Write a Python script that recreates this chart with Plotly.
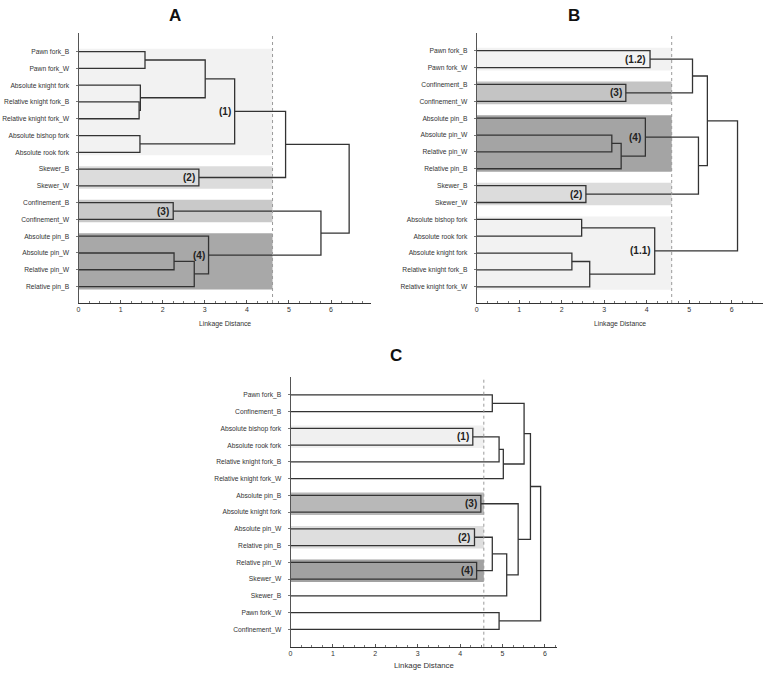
import plotly.graph_objects as go

# ---------------- DATA ----------------
leaves_A = ["Pawn fork_B", "Pawn fork_W", "Absolute knight fork", "Relative knight fork_B",
            "Relative knight fork_W", "Absolute bishop fork", "Absolute rook fork", "Skewer_B",
            "Skewer_W", "Confinement_B", "Confinement_W", "Absolute pin_B", "Absolute pin_W",
            "Relative pin_W", "Relative pin_B"]
# (child_a, child_b, linkage distance); int child = index of earlier merge
merges_A = [
    ("Pawn fork_B", "Pawn fork_W", 1.58),
    ("Relative knight fork_B", "Relative knight fork_W", 1.44),
    ("Absolute knight fork", 1, 1.47),
    (0, 2, 3.01),
    ("Absolute bishop fork", "Absolute rook fork", 1.46),
    (3, 4, 3.71),
    ("Skewer_B", "Skewer_W", 2.86),
    (5, 6, 4.92),
    ("Confinement_B", "Confinement_W", 2.25),
    ("Absolute pin_W", "Relative pin_W", 2.27),
    (9, "Relative pin_B", 2.75),
    ("Absolute pin_B", 10, 3.09),
    (8, 11, 5.76),
    (7, 12, 6.43),
]
clusters_A = [(5, "(1)", 0, 6), (6, "(2)", 7, 8), (8, "(3)", 9, 10), (11, "(4)", 11, 14)]
cut_A = 4.61

leaves_B = ["Pawn fork_B", "Pawn fork_W", "Confinement_B", "Confinement_W", "Absolute pin_B",
            "Absolute pin_W", "Relative pin_W", "Relative pin_B", "Skewer_B", "Skewer_W",
            "Absolute bishop fork", "Absolute rook fork", "Absolute knight fork",
            "Relative knight fork_B", "Relative knight fork_W"]
merges_B = [
    ("Pawn fork_B", "Pawn fork_W", 4.08),
    ("Confinement_B", "Confinement_W", 3.51),
    ("Absolute pin_W", "Relative pin_W", 3.18),
    (2, "Relative pin_B", 3.40),
    ("Absolute pin_B", 3, 3.97),
    ("Skewer_B", "Skewer_W", 2.57),
    ("Absolute bishop fork", "Absolute rook fork", 2.47),
    ("Absolute knight fork", "Relative knight fork_B", 2.24),
    (7, "Relative knight fork_W", 2.66),
    (6, 8, 4.19),
    (0, 1, 5.08),
    (4, 5, 5.22),
    (10, 11, 5.43),
    (12, 9, 6.14),
]
clusters_B = [(0, "(1.2)", 0, 1), (1, "(3)", 2, 3), (4, "(4)", 4, 7), (5, "(2)", 8, 9),
              (9, "(1.1)", 10, 14)]
cut_B = 4.59

leaves_C = ["Pawn fork_B", "Confinement_B", "Absolute bishop fork", "Absolute rook fork",
            "Relative knight fork_B", "Relative knight fork_W", "Absolute pin_B",
            "Absolute knight fork", "Absolute pin_W", "Relative pin_B", "Relative pin_W",
            "Skewer_W", "Skewer_B", "Pawn fork_W", "Confinement_W"]
merges_C = [
    ("Pawn fork_B", "Confinement_B", 4.76),
    ("Absolute bishop fork", "Absolute rook fork", 4.30),
    (1, "Relative knight fork_B", 4.92),
    (2, "Relative knight fork_W", 5.02),
    (0, 3, 5.51),
    ("Absolute pin_B", "Absolute knight fork", 4.49),
    ("Absolute pin_W", "Relative pin_B", 4.34),
    ("Relative pin_W", "Skewer_W", 4.39),
    (6, 7, 4.76),
    (8, "Skewer_B", 5.10),
    (5, 9, 5.37),
    (4, 10, 5.66),
    ("Pawn fork_W", "Confinement_W", 4.92),
    (11, 12, 5.90),
]
clusters_C = [(1, "(1)", 2, 3), (5, "(3)", 6, 7), (6, "(2)", 8, 9), (7, "(4)", 10, 11)]
cut_C = 4.56

panel_titles = ["A", "B", "C"]
x_title = "Linkage Distance"

# ---------------- STYLE ----------------
W, H = 767, 675
FONT = "Liberation Sans, Arial, sans-serif"
LINE_COLOR = "#333333"
band_colors = {
    "A": ["#f2f2f2", "#dcdcdc", "#c9c9c9", "#a8a8a8"],
    "B": ["#f2f2f2", "#c4c4c4", "#a4a4a4", "#dcdcdc", "#f2f2f2"],
    "C": ["#f0f0f0", "#b8b8b8", "#dedede", "#a2a2a2"],
}
# pixel geometry: (x0px, x1px, xmax, ytop_px, ybot_px, yrange_top, yrange_bottom)
geom = {
    "A": (76.7, 370.0, 6.95, 33, 303, -1.11, 14.98),
    "B": (476.0, 763.0, 6.74, 33, 303, -1.05, 14.96),
    "C": (289.3, 556.6, 6.29, 376.7, 646.7, -1.09, 15.04),
}
title_pos = {"A": (173.6, 15), "B": (573.6, 15), "C": (395, 355)}
xlabel_y = {"A": 324, "B": 324, "C": 665}
xlabel_size = {"A": 6.8, "B": 6.8, "C": 7.8}

panels = {
    "A": (leaves_A, merges_A, clusters_A, cut_A),
    "B": (leaves_B, merges_B, clusters_B, cut_B),
    "C": (leaves_C, merges_C, clusters_C, cut_C),
}

fig = go.Figure()
shapes, annotations = [], []
layout_axes = {}

for k, key in enumerate(["A", "B", "C"]):
    leaves, merges, clusters, cut = panels[key]
    sfx = "" if k == 0 else str(k + 1)
    xa, ya = "x" + sfx, "y" + sfx
    leaf_y = {name: i for i, name in enumerate(leaves)}
    nodes = []  # (x, y) for each merge

    def pos(c):
        if isinstance(c, str):
            return (0.0, float(leaf_y[c]))
        return nodes[c]

    xs, ys = [], []
    for a, b, h in merges:
        (xa0, ya0), (xb0, yb0) = pos(a), pos(b)
        xs += [xa0, h, h, xb0, None]
        ys += [ya0, ya0, yb0, yb0, None]
        nodes.append((h, (ya0 + yb0) / 2))

    # shaded cluster bands
    for ci, (mi, lab, i0, i1) in enumerate(clusters):
        shapes.append(dict(type="rect", xref=xa, yref=ya, x0=0, x1=cut,
                           y0=i0 - 0.17, y1=i1 + 0.17, fillcolor=band_colors[key][ci],
                           line=dict(width=0), layer="below"))
        nx, ny = nodes[mi]
        annotations.append(dict(xref=xa, yref=ya, x=nx, y=ny, text="<b>%s</b>" % lab,
                                showarrow=False, xanchor="right", yanchor="middle", xshift=-2,
                                font=dict(family=FONT, size=10, color="#222222")))
    # cut line
    shapes.append(dict(type="line", xref=xa, yref=ya + " domain", x0=cut, x1=cut, y0=0, y1=1,
                       line=dict(color="#9a9a9a", width=1, dash="dot"), layer="above"))

    fig.add_trace(go.Scatter(x=xs, y=ys, mode="lines", xaxis=xa, yaxis=ya,
                             line=dict(color=LINE_COLOR, width=1.3), hoverinfo="skip",
                             showlegend=False))

    x0p, x1p, xmax, ytp, ybp, yr0, yr1 = geom[key]
    layout_axes["xaxis" + sfx] = dict(
        domain=[x0p / W, x1p / W], range=[0, xmax], anchor=ya,
        showline=True, linecolor="#333333", linewidth=1, showgrid=False, zeroline=False,
        tickmode="array", tickvals=[0, 1, 2, 3, 4, 5, 6], ticks="inside", ticklen=3,
        tickcolor="#555555", tickfont=dict(family=FONT, size=7, color="#333333"),
        minor=dict(dtick=0.25, ticks="inside", ticklen=2, tickcolor="#777777", showgrid=False),
        fixedrange=True)
    layout_axes["yaxis" + sfx] = dict(
        domain=[1 - ybp / H, 1 - ytp / H], range=[yr1, yr0], anchor=xa,
        showline=True, linecolor="#555555", linewidth=1, showgrid=False, zeroline=False,
        tickmode="array", tickvals=list(range(len(leaves))), ticktext=leaves,
        ticks="outside", ticklen=2, tickcolor="#777777", ticklabelstandoff=5,
        tickfont=dict(family=FONT, size=6.7, color="#333333"), fixedrange=True)

    tx, ty = title_pos[key]
    annotations.append(dict(xref="paper", yref="paper", x=tx / W, y=1 - ty / H,
                            text="<b>%s</b>" % panel_titles[k], showarrow=False,
                            xanchor="center", yanchor="middle",
                            font=dict(family=FONT, size=17, color="#111111")))
    annotations.append(dict(xref=xa + " domain", yref="paper", x=0.5, y=1 - xlabel_y[key] / H,
                            text=x_title, showarrow=False, xanchor="center", yanchor="middle",
                            font=dict(family=FONT, size=xlabel_size[key], color="#333333")))

fig.update_layout(width=W, height=H, margin=dict(l=0, r=0, t=0, b=0),
                  paper_bgcolor="white", plot_bgcolor="white",
                  shapes=shapes, annotations=annotations, **layout_axes)

fig.write_html("out.html")
